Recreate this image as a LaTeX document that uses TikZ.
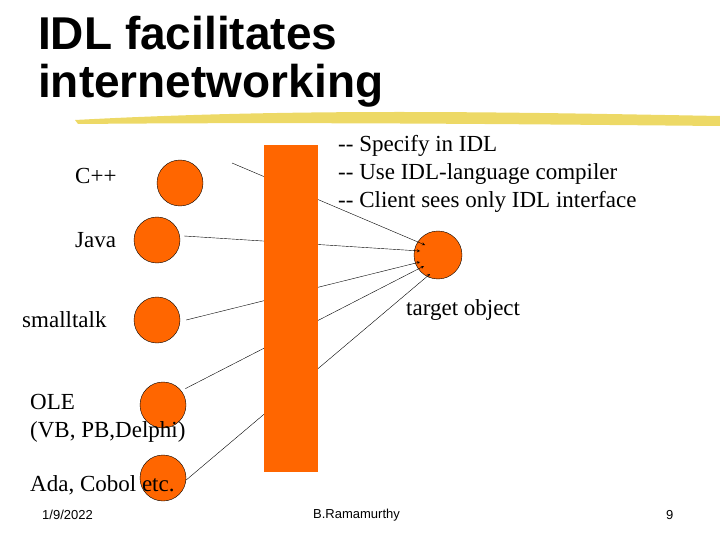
\documentclass[tikz,border=0pt]{standalone}
\usepackage{fontspec}
\setmainfont{Liberation Serif}
\newfontfamily\arialf{Liberation Sans}
\definecolor{org}{HTML}{FF6600}
\definecolor{brush}{HTML}{E8D040}
\begin{document}
\begin{tikzpicture}[x=1pt,y=-1pt,
  ball/.style={circle,draw=black,fill=org,minimum size=46pt,inner sep=0pt},
  lbl/.style={anchor=west,font=\fontsize{23}{28}\selectfont,inner sep=0pt},
  foot/.style={font=\arialf\fontsize{13}{15}\selectfont,inner sep=0pt},
  conn/.style={->,>=stealth,thin}]
\useasboundingbox (0,0) rectangle (720,540);
\node[anchor=west,align=left,font=\arialf\bfseries\fontsize{46}{48}\selectfont,inner sep=0pt] (title) at (38,62) {IDL facilitates\\internetworking};
\fill[brush,opacity=0.8] (75,120) .. controls (300,108) and (500,112) .. (720,116) -- (720,126) .. controls (500,124) and (300,122) .. (78,124) -- cycle;
\node[ball] (c) at (180,183) {};
\node[ball] (j) at (157,240) {};
\node[ball] (s) at (157,320) {};
\node[ball] (o) at (163,405) {};
\node[ball] (a) at (163,478) {};
\node[ball,minimum size=48pt] (t) at (438,255) {};
\coordinate (t1) at (425,245);
\coordinate (t2) at (420,251);
\coordinate (t3) at (420,262);
\coordinate (t4) at (424,266);
\coordinate (t5) at (430,274);
\coordinate (cs) at (232,163);
\draw[conn] (cs) -- (t1);
\draw[conn] (j.east) ++(4,-4) coordinate (js) -- (t2);
\draw[conn] (s.east) ++(6,0) coordinate (ss) -- (t3);
\draw[conn] (o.north east) ++(6,0) coordinate (os) -- (t4);
\draw[conn] (a.east) ++(0,2) coordinate (as) -- (t5);
\fill[org] (264,145) rectangle (318,472);
\node[lbl] (lc) at (75,176) {C++};
\node[lbl] (lj) at (75,240) {Java};
\node[lbl] (ls) at (22,320) {smalltalk};
\node[lbl,align=left] (lo) at (30,418) {OLE\\(VB, PB,Delphi)};
\node[lbl] (la) at (30,485) {Ada, Cobol etc.};
\node[lbl,align=left] (spec) at (338,174) {-{}- Specify in IDL\\-{}- Use IDL-language compiler\\-{}- Client sees only IDL interface};
\node[lbl] (tl) at (406,310) {target object};
\node[foot,anchor=west] (f1) at (42,515) {1/9/2022};
\node[foot,anchor=west] (f2) at (313,515) {B.Ramamurthy};
\node[foot,anchor=west] (f3) at (666,515) {9};
\end{tikzpicture}
\end{document}
